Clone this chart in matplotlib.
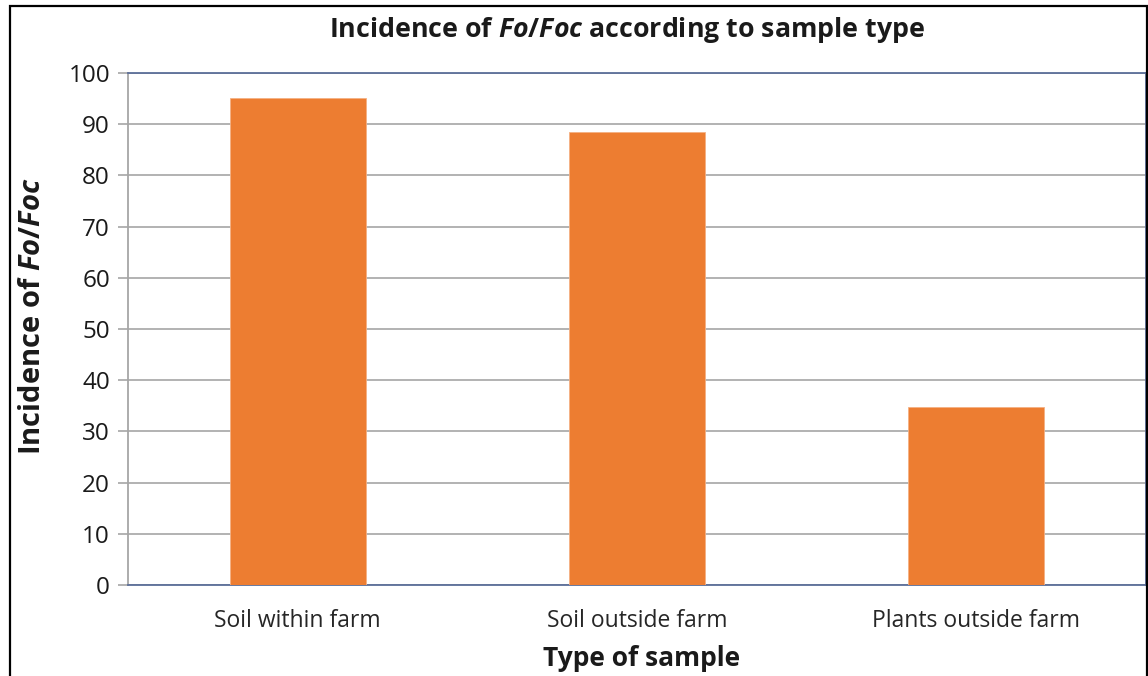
import matplotlib
matplotlib.use("Agg")
import matplotlib.pyplot as plt
from matplotlib.patches import Rectangle

categories = ["Soil within farm", "Soil outside farm", "Plants outside farm"]
values = [95.2, 88.5, 34.7]
yticks = [0, 10, 20, 30, 40, 50, 60, 70, 80, 90, 100]

plt.rcParams['font.family'] = ['Open Sans', 'DejaVu Sans']
plt.rcParams['mathtext.fontset'] = 'custom'
plt.rcParams['mathtext.it'] = 'Open Sans:italic:bold'
plt.rcParams['mathtext.rm'] = 'Open Sans:bold'

fig = plt.figure(figsize=(11.48, 6.76), dpi=100)
ax = fig.add_axes([128/1148, (676-585)/676, (1146-128)/1148, (585-73)/676])

x = range(len(categories))
ax.bar(x, values, width=0.4, color="#ED7D31", edgecolor="#F4B183", linewidth=0.6, zorder=3)
ax.set_xlim(-0.5, 2.5)
ax.set_ylim(0, 100)
ax.set_yticks(yticks)
ax.set_xticks(list(x))
ax.set_xticklabels(categories, fontsize=16.5, color="#262626")
ax.tick_params(axis='y', labelsize=17.5, length=7, color="#A6A6A6", width=1.2, pad=6, labelcolor="#1a1a1a")
ax.tick_params(axis='x', length=0, pad=17)
ax.yaxis.grid(True, color="#A6A6A6", linewidth=1.2, zorder=0)
ax.set_axisbelow(True)

blue = "#5B6E99"
for s in ["top", "right", "bottom"]:
    ax.spines[s].set_color(blue)
    ax.spines[s].set_linewidth(1.3)
ax.spines["left"].set_color("#A6A6A6")
ax.spines["left"].set_linewidth(1.3)

fig.text(626.5/1148, 1-30/676, r"Incidence of $\mathit{Fo/Foc}$ according to sample type",
         ha="center", va="center", fontsize=19.3, fontweight="bold", color="#1a1a1a")
fig.text(33/1148, 1-316/676, r"Incidence of $\mathit{Fo/Foc}$", rotation=90,
         ha="center", va="center", fontsize=21, fontweight="bold", color="#1a1a1a")
fig.text(642/1148, 1-658/676, "Type of sample", ha="center", va="center",
         fontsize=19, fontweight="bold", color="#1a1a1a")

fig.patches.append(Rectangle((10/1148, -0.05), (1147-10)/1148, 1.05 - 6/676,
                             transform=fig.transFigure, fill=False, edgecolor="black", linewidth=1.6))

fig.savefig("out.png", dpi=100)
